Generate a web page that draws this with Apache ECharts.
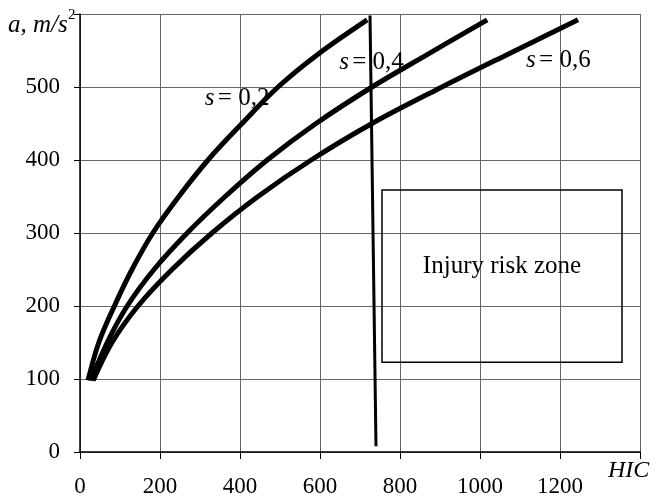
<!DOCTYPE html>
<html>
<head>
<meta charset="utf-8">
<script src="https://cdn.jsdelivr.net/npm/echarts@6/dist/echarts.min.js"></script>
<style>
  html, body { margin: 0; padding: 0; background: #fff; }
  #chart { width: 656px; height: 503px; }
</style>
</head>
<body>
<div id="chart"></div>
<script>
// values (HIC vs a, m/s^2)
const accLevels = [98, 150, 200, 250, 300, 350, 400, 450, 500, 545, 592]
const hicS02 = [20, 47, 86, 130, 182, 247, 320, 405, 495, 595, 718]
const hicS04 = [27, 68, 118, 185, 268, 363, 468, 590, 730, 870, 1018]
const hicS06 = [33, 80, 145, 230, 330, 445, 578, 730, 905, 1070, 1245]

// near-vertical limit line
const limitHic = [725, 740]
const limitAcc = [598, 8]

// injury risk zone box
const zoneHic = [755, 1355]
const zoneAcc = [123, 359]

// curve captions
const captionHic = [312, 648, 1115]
const captionAcc = [485, 533, 537]
const captionText = ['0,2', '0,4', '0,6']

const xTicks = [0, 200, 400, 600, 800, 1000, 1200]
const yTicks = [0, 100, 200, 300, 400, 500]

const serif = '"Liberation Serif", "DejaVu Serif", serif'

function pairs(xs, ys) {
  return xs.map((x, i) => [x, ys[i]])
}

const curveStyle = {
  type: 'line',
  smooth: 0.35,
  showSymbol: false,
  lineStyle: { color: '#000', width: 5 },
  z: 5
}

const chart = echarts.init(document.getElementById('chart'))
chart.setOption({
  animation: false,
  backgroundColor: '#fff',
  grid: { left: 80, right: 16, top: 14, bottom: 51 },
  xAxis: {
    type: 'value',
    min: 0,
    max: 1400,
    interval: 200,
    axisLine: { lineStyle: { color: '#000', width: 1.5 } },
    axisTick: { show: true, length: 7, lineStyle: { color: '#000' } },
    axisLabel: {
      margin: 23,
      fontFamily: serif,
      fontSize: 23,
      color: '#000',
      formatter: v => xTicks.includes(v) ? String(v) : ''
    },
    splitLine: { show: true, lineStyle: { color: '#666', width: 1 } }
  },
  yAxis: {
    type: 'value',
    min: 0,
    max: 600,
    interval: 100,
    axisLine: { show: true, lineStyle: { color: '#000', width: 1.5 } },
    axisTick: { show: true, length: 6, lineStyle: { color: '#000' } },
    axisLabel: {
      margin: 20,
      fontFamily: serif,
      fontSize: 23,
      color: '#000',
      formatter: v => yTicks.includes(v) ? String(v) : ''
    },
    splitLine: { show: true, lineStyle: { color: '#666', width: 1 } }
  },
  graphic: [
    {
      type: 'text',
      left: 8,
      top: 13,
      style: {
        text: 'a, m/s',
        font: 'italic 25px ' + serif,
        fill: '#000'
      }
    },
    {
      type: 'text',
      left: 68,
      top: 8,
      style: {
        text: '2',
        font: '15px ' + serif,
        fill: '#000'
      }
    },
    {
      type: 'text',
      left: 608,
      top: 459,
      style: {
        text: 'HIC',
        font: 'italic 24px ' + serif,
        fill: '#000'
      }
    }
  ],
  series: [
    Object.assign({ name: 's = 0,2', data: pairs(hicS02, accLevels) }, curveStyle),
    Object.assign({ name: 's = 0,4', data: pairs(hicS04, accLevels) }, curveStyle),
    Object.assign({ name: 's = 0,6', data: pairs(hicS06, accLevels) }, curveStyle),
    {
      name: 'limit',
      type: 'line',
      showSymbol: false,
      data: pairs(limitHic, limitAcc),
      lineStyle: { color: '#000', width: 3 },
      z: 4,
      markArea: {
        silent: true,
        itemStyle: { color: 'rgba(0,0,0,0)', borderColor: '#000', borderWidth: 1.5 },
        label: {
          show: true,
          position: 'inside',
          offset: [0, -10],
          fontFamily: serif,
          fontSize: 25,
          color: '#000',
          opacity: 1
        },
        data: [[
          { name: 'Injury risk zone', coord: [zoneHic[0], zoneAcc[1]] },
          { coord: [zoneHic[1], zoneAcc[0]] }
        ]]
      }
    },
    {
      name: 'captions',
      type: 'scatter',
      symbolSize: 0,
      itemStyle: { color: '#000', opacity: 1 },
      data: captionHic.map((x, i) => [x, captionAcc[i], captionText[i]]),
      label: {
        show: true,
        position: 'right',
        distance: 0,
        opacity: 1,
        formatter: p => '{s|s} {n|= ' + p.value[2] + '}',
        color: '#000',
        rich: {
          s: { fontFamily: serif, fontStyle: 'italic', fontSize: 25, color: '#000' },
          n: { fontFamily: serif, fontSize: 25, color: '#000' }
        }
      },
      z: 6
    }
  ]
})
</script>
</body>
</html>
